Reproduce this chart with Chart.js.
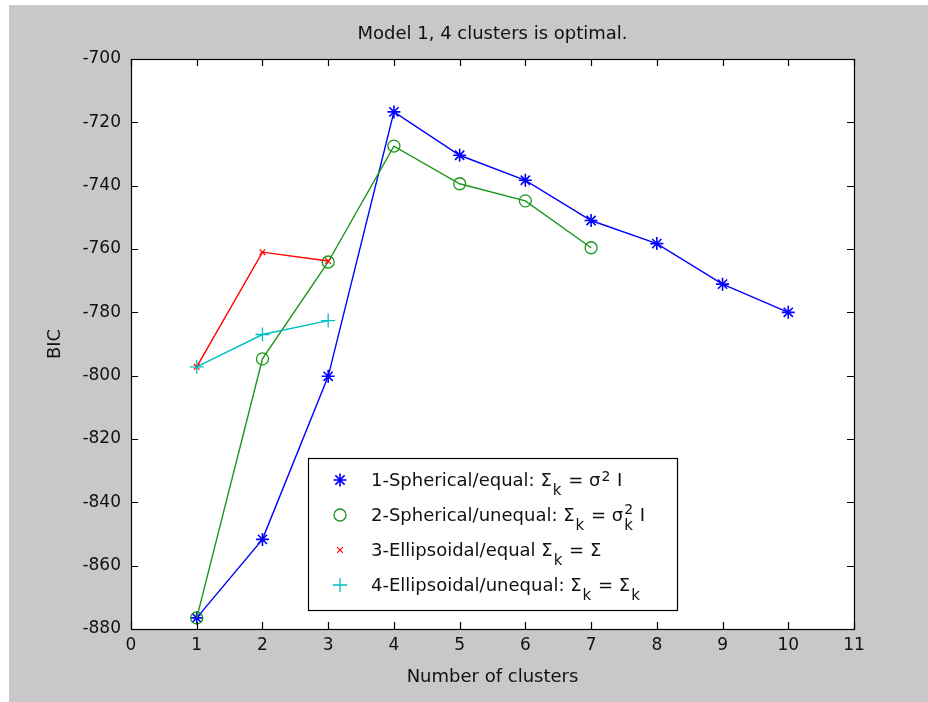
<!DOCTYPE html>
<html>
<head>
<meta charset="utf-8">
<script src="https://cdn.jsdelivr.net/npm/chart.js@4/dist/chart.umd.min.js"></script>
<style>
  html, body { margin: 0; padding: 0; background: #ffffff; }
  canvas { display: block; }
</style>
</head>
<body>
<canvas id="c" width="928" height="702"></canvas>
<script>
// ---------------- data ----------------
const chartTitle = 'Model 1, 4 clusters is optimal.';
const xAxisLabel = 'Number of clusters';
const yAxisLabel = 'BIC';
const xTicks = [0, 1, 2, 3, 4, 5, 6, 7, 8, 9, 10, 11];
const yTicks = [-880, -860, -840, -820, -800, -780, -760, -740, -720, -700];
const clusters = [1, 2, 3, 4, 5, 6, 7, 8, 9, 10];

const bicModel1 = [-876.5, -851.7, -800.2, -716.7, -730.4, -738.3, -751.0, -758.3, -771.1, -780.0];
const bicModel2 = [-876.5, -794.7, -764.1, -727.5, -739.4, -744.8, -759.6];
const bicModel3 = [-797.2, -761.0, -763.8];
const bicModel4 = [-797.2, -787.0, -782.6];

const seriesNames = [
  '1-Spherical/equal: Σ_{k} = σ^{2} I',
  '2-Spherical/unequal: Σ_{k} = σ_{k}^{2} I',
  '3-Ellipsoidal/equal Σ_{k} = Σ',
  '4-Ellipsoidal/unequal: Σ_{k} = Σ_{k}'
];
const seriesValues = [bicModel1, bicModel2, bicModel3, bicModel4];

// ---------------- styles ----------------
const FONT = '"DejaVu Sans", "Liberation Sans", Arial, sans-serif';
const seriesStyle = [
  { color: '#0000ff', pointStyle: 'star',     radius: 6.5, width: 1.6 },
  { color: '#1a961a', pointStyle: 'circle',   radius: 6,   width: 1.3 },
  { color: '#ff0000', pointStyle: 'crossRot', radius: 4,   width: 1.2 },
  { color: '#00bfbf', pointStyle: 'cross',    radius: 7,   width: 1.3 }
];

const datasets = seriesValues.map((vals, i) => ({
  label: seriesNames[i],
  data: vals.map((v, j) => ({ x: clusters[j], y: v })),
  borderColor: seriesStyle[i].color,
  backgroundColor: 'rgba(0,0,0,0)',
  borderWidth: 1.4,
  pointStyle: seriesStyle[i].pointStyle,
  pointRadius: seriesStyle[i].radius,
  pointHoverRadius: seriesStyle[i].radius,
  pointBorderColor: seriesStyle[i].color,
  pointBackgroundColor: 'rgba(0,0,0,0)',
  pointBorderWidth: seriesStyle[i].width,
  tension: 0,
  fill: false,
  order: seriesValues.length - i
}));

// ---------------- helpers ----------------
function drawRich(ctx, str, x, y, baseFont, supFont, subFont) {
  const re = /([_^])\{([^}]*)\}/g;
  let last = 0, m, cx = x;
  let scriptStart = null, scriptWidth = 0, hadSub = false;
  const flush = () => {
    if (scriptStart !== null) { cx = scriptStart + scriptWidth + 1; scriptStart = null; scriptWidth = 0; }
  };
  while ((m = re.exec(str))) {
    const plain = str.slice(last, m.index);
    if (plain) {
      flush();
      ctx.font = baseFont;
      ctx.fillText(plain, cx, y);
      cx += ctx.measureText(plain).width;
    }
    if (scriptStart === null) { scriptStart = cx + 1; hadSub = false; }
    const isSub = m[1] === '_';
    ctx.font = isSub ? subFont : supFont;
    let dy;
    if (isSub) { dy = 9; hadSub = true; }
    else { dy = hadSub ? -7 : -5; }
    ctx.fillText(m[2], scriptStart, y + dy);
    scriptWidth = Math.max(scriptWidth, ctx.measureText(m[2]).width);
    last = re.lastIndex;
  }
  flush();
  const rest = str.slice(last);
  if (rest) { ctx.font = baseFont; ctx.fillText(rest, cx, y); }
}

function drawMarker(ctx, style, x, y) {
  ctx.save();
  ctx.strokeStyle = style.color;
  ctx.fillStyle = 'rgba(0,0,0,0)';
  ctx.lineWidth = style.width;
  if (Chart.helpers && Chart.helpers.drawPoint) {
    Chart.helpers.drawPoint(ctx, { pointStyle: style.pointStyle, rotation: 0, radius: style.radius, borderWidth: style.width }, x, y);
  }
  ctx.restore();
}

// ---------------- plugins ----------------
const matlabLook = {
  id: 'matlabLook',
  beforeDraw(chart) {
    const { ctx, chartArea: a } = chart;
    ctx.save();
    ctx.fillStyle = '#ffffff';
    ctx.fillRect(0, 0, chart.width, chart.height);
    ctx.fillStyle = '#c8c8c8';
    ctx.fillRect(9, 5, chart.width - 9, chart.height - 5);
    ctx.fillStyle = '#ffffff';
    ctx.fillRect(a.left, a.top, a.right - a.left, a.bottom - a.top);
    ctx.restore();
  },
  afterDraw(chart) {
    const { ctx, chartArea: a, scales } = chart;
    const xs = scales.x, ys = scales.y;
    ctx.save();
    // frame
    ctx.strokeStyle = '#000000';
    ctx.lineWidth = 1.2;
    ctx.strokeRect(a.left + 0.5, a.top + 0.5, a.right - a.left, a.bottom - a.top);
    // inward ticks
    const tl = 7;
    ctx.beginPath();
    xs.ticks.forEach(t => {
      const px = Math.round(xs.getPixelForValue(t.value)) + 0.5;
      ctx.moveTo(px, a.bottom); ctx.lineTo(px, a.bottom - tl);
      ctx.moveTo(px, a.top); ctx.lineTo(px, a.top + tl);
    });
    ys.ticks.forEach(t => {
      const py = Math.round(ys.getPixelForValue(t.value)) + 0.5;
      ctx.moveTo(a.left, py); ctx.lineTo(a.left + tl, py);
      ctx.moveTo(a.right, py); ctx.lineTo(a.right - tl, py);
    });
    ctx.stroke();

    // title
    ctx.fillStyle = '#111111';
    ctx.font = '18px ' + FONT;
    ctx.textAlign = 'center';
    ctx.textBaseline = 'middle';
    ctx.fillText(chartTitle, (a.left + a.right) / 2, 34);

    // legend box
    const bx = 308, by = 458, bw = 369, bh = 152;
    ctx.fillStyle = '#ffffff';
    ctx.fillRect(bx, by, bw, bh);
    ctx.strokeStyle = '#000000';
    ctx.lineWidth = 1.2;
    ctx.strokeRect(bx + 0.5, by + 0.5, bw, bh);
    ctx.textAlign = 'left';
    ctx.textBaseline = 'alphabetic';
    chart.data.datasets.forEach((ds, i) => {
      const base = by + 28 + i * 35;
      drawMarker(ctx, seriesStyle[i], bx + 32, base - 6);
      ctx.fillStyle = '#111111';
      drawRich(ctx, ds.label, bx + 63, base, '18px ' + FONT, '14px ' + FONT, '15px ' + FONT);
    });
    ctx.restore();
  }
};

new Chart(document.getElementById('c'), {
  type: 'line',
  data: { datasets },
  plugins: [matlabLook],
  options: {
    responsive: false,
    devicePixelRatio: 1,
    animation: false,
    layout: { padding: { left: 0, top: 59, right: 74, bottom: 0 } },
    plugins: {
      legend: { display: false },
      title: { display: false },
      tooltip: { enabled: false }
    },
    scales: {
      x: {
        type: 'linear',
        min: xTicks[0],
        max: xTicks[xTicks.length - 1],
        afterBuildTicks: s => { s.ticks = xTicks.map(v => ({ value: v })); },
        afterFit: s => { s.height = 73; },
        grid: { display: false, drawTicks: false },
        border: { display: false },
        ticks: {
          padding: 6,
          color: '#111111',
          font: { family: FONT, size: 17 },
          maxRotation: 0,
          autoSkip: false,
          callback: v => String(v)
        },
        title: {
          display: true,
          text: xAxisLabel,
          color: '#111111',
          font: { family: FONT, size: 18 },
          padding: { top: 0, bottom: 14 }
        }
      },
      y: {
        type: 'linear',
        min: yTicks[0],
        max: yTicks[yTicks.length - 1],
        afterBuildTicks: s => { s.ticks = yTicks.map(v => ({ value: v })); },
        afterFit: s => { s.width = 131; },
        grid: { display: false, drawTicks: false },
        border: { display: false },
        ticks: {
          padding: 10,
          color: '#111111',
          font: { family: FONT, size: 17 },
          autoSkip: false,
          callback: v => String(v)
        },
        title: {
          display: true,
          text: yAxisLabel,
          color: '#111111',
          font: { family: FONT, size: 18 },
          padding: { top: 45, bottom: 0 }
        }
      }
    }
  }
});
</script>
</body>
</html>
